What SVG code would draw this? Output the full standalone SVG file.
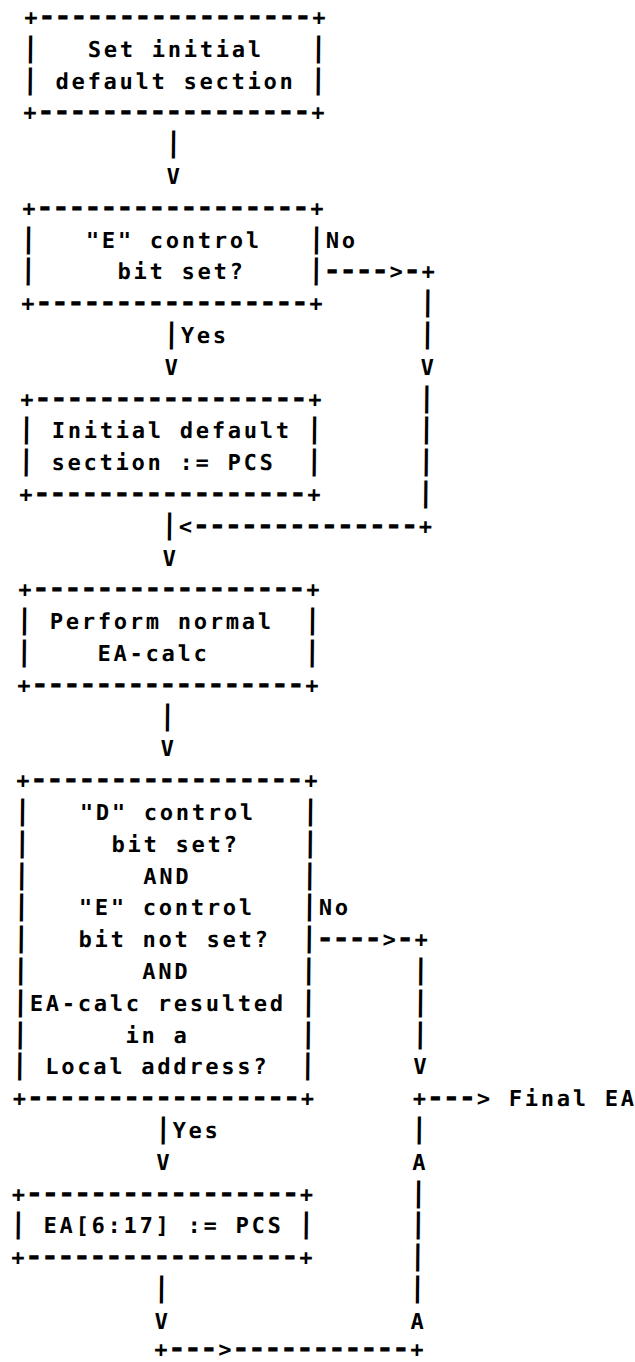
<svg xmlns="http://www.w3.org/2000/svg" xmlns:xlink="http://www.w3.org/1999/xlink" width="635" height="1362" viewBox="0 0 635 1362">
<style>
.t{font-family:"DejaVu Sans Mono","Liberation Mono",monospace;font-size:22px;font-weight:bold;letter-spacing:2.755px;fill:#000}
.b{font-family:"DejaVu Sans Mono","Liberation Mono",monospace;font-size:28px;font-weight:bold;fill:#000}
.d{font-family:"DejaVu Sans Mono","Liberation Mono",monospace;font-size:30px;font-weight:bold;letter-spacing:-2.06px;fill:#000}
</style>
<defs>
<g id="hb">
<text class="t" x="24.4" y="0">+</text><text class="d" x="37.97" y="1">-----------------</text><text class="t" x="312.4" y="0">+</text>
</g>
</defs>
<rect width="635" height="1362" fill="#fff"/>
<g transform="skewX(-0.6)">
<g id="node-set-initial">
<use xlink:href="#hb" href="#hb" y="25"/>
<text class="b" x="22.6" y="56.8">|</text><text class="t" x="88.4" y="56.8">Set initial</text><text class="b" x="310.6" y="56.8">|</text>
<text class="b" x="22.6" y="88.6">|</text><text class="t" x="56.4" y="88.6">default section</text><text class="b" x="310.6" y="88.6">|</text>
<use xlink:href="#hb" href="#hb" y="120.4"/>
</g>
<g id="node-e-bit-set">
<use xlink:href="#hb" href="#hb" y="215.8"/>
<text class="b" x="22.6" y="247.6">|</text><text class="t" x="88.4" y="247.6">"E" control</text><text class="b" x="310.6" y="247.6">|</text>
<text class="b" x="22.6" y="279.4">|</text><text class="t" x="120.4" y="279.4">bit set?</text><text class="b" x="310.6" y="279.4">|</text>
<use xlink:href="#hb" href="#hb" y="311.2"/>
</g>
<g id="node-initial-pcs">
<use xlink:href="#hb" href="#hb" y="406.6"/>
<text class="b" x="22.6" y="438.4">|</text><text class="t" x="56.4" y="438.4">Initial default</text><text class="b" x="310.6" y="438.4">|</text>
<text class="b" x="22.6" y="470.2">|</text><text class="t" x="56.4" y="470.2">section := PCS</text><text class="b" x="310.6" y="470.2">|</text>
<use xlink:href="#hb" href="#hb" y="502"/>
</g>
<g id="node-perform-ea-calc">
<use xlink:href="#hb" href="#hb" y="597.4"/>
<text class="b" x="22.6" y="629.2">|</text><text class="t" x="56.4" y="629.2">Perform normal</text><text class="b" x="310.6" y="629.2">|</text>
<text class="b" x="22.6" y="661">|</text><text class="t" x="104.4" y="661">EA-calc</text><text class="b" x="310.6" y="661">|</text>
<use xlink:href="#hb" href="#hb" y="692.8"/>
</g>
<g id="node-d-e-local">
<use xlink:href="#hb" href="#hb" y="788.2"/>
<text class="b" x="22.6" y="820">|</text><text class="t" x="88.4" y="820">"D" control</text><text class="b" x="310.6" y="820">|</text>
<text class="b" x="22.6" y="851.8">|</text><text class="t" x="120.4" y="851.8">bit set?</text><text class="b" x="310.6" y="851.8">|</text>
<text class="b" x="22.6" y="883.6">|</text><text class="t" x="152.4" y="883.6">AND</text><text class="b" x="310.6" y="883.6">|</text>
<text class="b" x="22.6" y="915.4">|</text><text class="t" x="88.4" y="915.4">"E" control</text><text class="b" x="310.6" y="915.4">|</text>
<text class="b" x="22.6" y="947.2">|</text><text class="t" x="88.4" y="947.2">bit not set?</text><text class="b" x="310.6" y="947.2">|</text>
<text class="b" x="22.6" y="979">|</text><text class="t" x="152.4" y="979">AND</text><text class="b" x="310.6" y="979">|</text>
<text class="b" x="22.6" y="1010.8">|</text><text class="t" x="40.4" y="1010.8">EA-calc resulted</text><text class="b" x="310.6" y="1010.8">|</text>
<text class="b" x="22.6" y="1042.6">|</text><text class="t" x="136.4" y="1042.6">in a</text><text class="b" x="310.6" y="1042.6">|</text>
<text class="b" x="22.6" y="1074.4">|</text><text class="t" x="56.4" y="1074.4">Local address?</text><text class="b" x="310.6" y="1074.4">|</text>
<use xlink:href="#hb" href="#hb" y="1106.2"/>
</g>
<g id="node-ea-pcs">
<use xlink:href="#hb" href="#hb" y="1201.6"/>
<text class="b" x="22.6" y="1233.4">|</text><text class="t" x="56.4" y="1233.4">EA[6:17] := PCS</text><text class="b" x="310.6" y="1233.4">|</text>
<use xlink:href="#hb" href="#hb" y="1265.2"/>
</g>
<g id="node-final-ea">
<text class="t" x="520.4" y="1106.2">Final EA</text>
</g>
<g id="connectors">
<text class="b" x="166.6" y="152.2">|</text>
<text class="t" x="168.4" y="184">V</text>
<text class="t" x="328.4" y="247.6">No</text>
<text class="d" x="325.97" y="280.4">----</text><text class="t" x="392.4" y="279.4">&gt;</text><text class="d" x="405.97" y="280.4">-</text><text class="t" x="424.4" y="279.4">+</text>
<text class="b" x="422.6" y="311.2">|</text>
<text class="b" x="166.6" y="343">|</text><text class="t" x="184.4" y="343">Yes</text><text class="b" x="422.6" y="343">|</text>
<text class="t" x="168.4" y="374.8">V</text><text class="t" x="424.4" y="374.8">V</text>
<text class="b" x="422.6" y="406.6">|</text>
<text class="b" x="422.6" y="438.4">|</text>
<text class="b" x="422.6" y="470.2">|</text>
<text class="b" x="422.6" y="502">|</text>
<text class="b" x="166.6" y="533.8">|</text><text class="t" x="184.4" y="533.8">&lt;</text><text class="d" x="197.97" y="534.8">--------------</text><text class="t" x="424.4" y="533.8">+</text>
<text class="t" x="168.4" y="565.6">V</text>
<text class="b" x="166.6" y="724.6">|</text>
<text class="t" x="168.4" y="756.4">V</text>
<text class="t" x="328.4" y="915.4">No</text>
<text class="d" x="325.97" y="948.2">----</text><text class="t" x="392.4" y="947.2">&gt;</text><text class="d" x="405.97" y="948.2">-</text><text class="t" x="424.4" y="947.2">+</text>
<text class="b" x="422.6" y="979">|</text>
<text class="b" x="422.6" y="1010.8">|</text>
<text class="b" x="422.6" y="1042.6">|</text>
<text class="t" x="424.4" y="1074.4">V</text>
<text class="t" x="424.4" y="1106.2">+</text><text class="d" x="437.97" y="1107.2">---</text><text class="t" x="488.4" y="1106.2">&gt;</text>
<text class="b" x="166.6" y="1138">|</text><text class="t" x="184.4" y="1138">Yes</text><text class="b" x="422.6" y="1138">|</text>
<text class="t" x="168.4" y="1169.8">V</text><text class="t" x="424.4" y="1169.8">A</text>
<text class="b" x="422.6" y="1201.6">|</text>
<text class="b" x="422.6" y="1233.4">|</text>
<text class="b" x="422.6" y="1265.2">|</text>
<text class="b" x="166.6" y="1297">|</text><text class="b" x="422.6" y="1297">|</text>
<text class="t" x="168.4" y="1328.8">V</text><text class="t" x="424.4" y="1328.8">A</text>
<text class="t" x="168.4" y="1357">+</text><text class="d" x="181.97" y="1357.6">---</text><text class="t" x="232.4" y="1357">&gt;</text><text class="d" x="245.97" y="1357.6">-----------</text><text class="t" x="424.4" y="1357">+</text>
</g>
</g>
</svg>
